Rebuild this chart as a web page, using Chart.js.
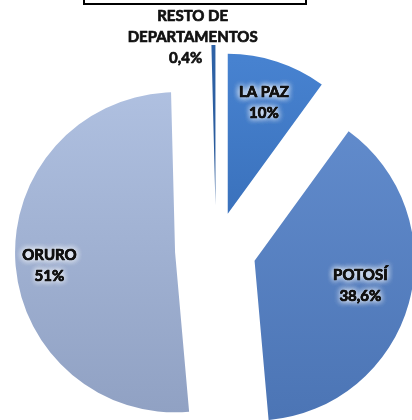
<!DOCTYPE html>
<html>
<head>
<meta charset="utf-8">
<script src="https://cdn.jsdelivr.net/npm/chart.js@4.4.1/dist/chart.umd.min.js"></script>
<style>
  html, body { margin: 0; padding: 0; background: #ffffff; overflow: hidden; }
  #wrap { position: relative; width: 412px; height: 420px; }
  #titlebox { position: absolute; left: 83px; top: -30px; width: 220px; height: 31px; border: 2px solid #000; box-sizing: content-box; }
</style>
</head>
<body>
<div id="wrap">
  <canvas id="c" width="412" height="420"></canvas>
  <div id="titlebox"></div>
</div>
<script>
// ---- data ----
const categories = ["LA PAZ", "POTOSÍ", "ORURO", "RESTO DE DEPARTAMENTOS"];
const values = [10, 38.6, 51, 0.4];
const valueLabels = ["10%", "38,6%", "51%", "0,4%"];

// ---- style ----
const topColors = ["#4782D0", "#6690D1", "#B2C3E3", "#2E62A6"];
const bottomColors = ["#2A5CA2", "#4C75B5", "#90A1C3", "#1D4680"];
const shiftPx = [38, 40, 41, 45];           // explode distance
const labelFrac = [0.73, 0.68, 0.79, 1.06]; // label radial position
const labelAngleAdj = [0, -2, -3, -7];       // degrees

// explode each slice by moving its element centre along its mid-angle
const explode = {
  id: 'explode',
  beforeDatasetsDraw(chart) {
    const ca = chart.chartArea;
    const cx0 = (ca.left + ca.right) / 2;
    const cy0 = (ca.top + ca.bottom) / 2;
    chart.getDatasetMeta(0).data.forEach((arc, i) => {
      const mid = (arc.startAngle + arc.endAngle) / 2;
      arc.x = cx0 + Math.cos(mid) * shiftPx[i];
      arc.y = cy0 + Math.sin(mid) * shiftPx[i];
    });
  }
};

const labelPlugin = {
  id: 'sliceLabels',
  afterDatasetsDraw(chart) {
    const ctx = chart.ctx;
    chart.getDatasetMeta(0).data.forEach((arc, i) => {
      const mid = (arc.startAngle + arc.endAngle) / 2;
      const a = mid + labelAngleAdj[i] * Math.PI / 180;
      const r = arc.outerRadius * labelFrac[i];
      const x = arc.x + Math.cos(a) * r;
      const y = arc.y + Math.sin(a) * r;
      const lines = (i === 3) ? ["RESTO DE", "DEPARTAMENTOS", valueLabels[i]]
                              : [categories[i], valueLabels[i]];
      const lh = 21;
      ctx.save();
      ctx.font = "bold 15px Lato, 'Open Sans', sans-serif";
      ctx.textAlign = "center";
      ctx.textBaseline = "middle";
      ctx.lineJoin = "round";
      const y0 = y - (lines.length - 1) * lh / 2;
      lines.forEach((t, k) => {
        const yy = y0 + k * lh;
        const xx = (i === 3 && k === 2) ? x - 7 : x;
        if (i !== 3) {
          ctx.shadowColor = "rgba(255,255,255,0.95)";
          ctx.shadowBlur = 6;
          ctx.fillStyle = "#1a1a1a";
          for (let n = 0; n < 3; n++) ctx.fillText(t, xx, yy);
        }
        ctx.shadowBlur = 0;
        ctx.fillStyle = "#111111";
        ctx.strokeStyle = "#111111";
        ctx.lineWidth = 0.7;
        ctx.strokeText(t, xx, yy);
        ctx.fillText(t, xx, yy);
      });
      ctx.restore();
    });
  }
};

function grad(i) {
  return (c) => {
    const g = c.chart.ctx.createLinearGradient(0, 60, 0, 415);
    g.addColorStop(0, topColors[i]);
    g.addColorStop(1, bottomColors[i]);
    return g;
  };
}

new Chart(document.getElementById('c'), {
  type: 'pie',
  data: {
    labels: categories,
    datasets: [{
      data: values,
      backgroundColor: (c) => grad(c.dataIndex)(c),
      borderWidth: 0
    }]
  },
  options: {
    responsive: false,
    animation: false,
    radius: 160,
    layout: { padding: { left: 20, right: 0, top: 80, bottom: 0 } },
    plugins: { legend: { display: false }, tooltip: { enabled: false } }
  },
  plugins: [explode, labelPlugin]
});
</script>
</body>
</html>
